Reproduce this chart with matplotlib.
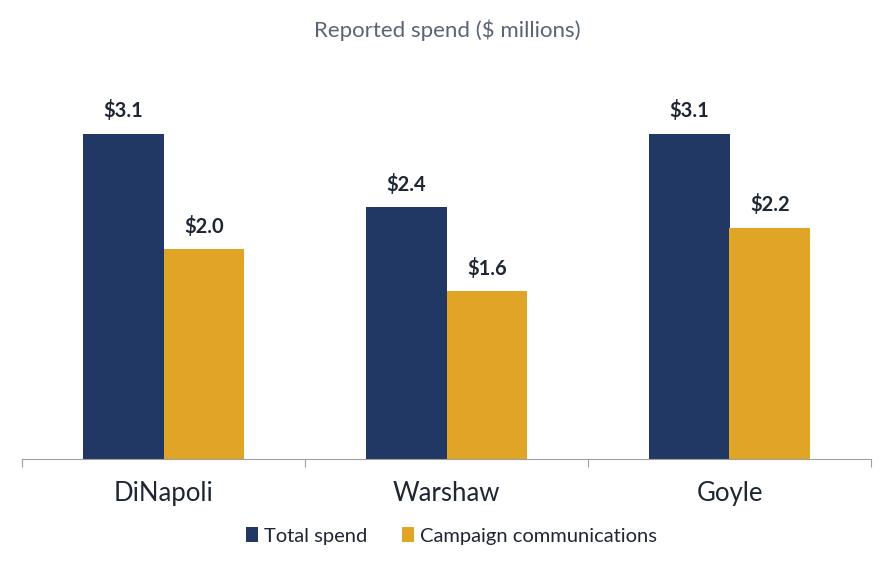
import matplotlib
matplotlib.use("Agg")
import matplotlib.pyplot as plt
import numpy as np

candidates = ["DiNapoli", "Warshaw", "Goyle"]
total_spend = [3.1, 2.4, 3.1]
campaign_comms = [2.0, 1.6, 2.2]
series_names = ["Total spend", "Campaign communications"]

navy = "#213864"
gold = "#E0A526"
text_dark = "#1E2533"

plt.rcParams['font.family'] = ['Lato', 'DejaVu Sans']

fig = plt.figure(figsize=(8.94, 5.70), dpi=100)
ax = fig.add_axes([22 / 894, 1 - 459 / 570, (871 - 22) / 894, (459 - 60) / 570])

x = np.arange(len(candidates))
w = 0.286
b1 = ax.bar(x - w / 2, total_spend, w, color=navy, label=series_names[0])
b2 = ax.bar(x + w / 2, campaign_comms, w, color=gold, label=series_names[1])

for bars in (b1, b2):
    for rect in bars:
        h = rect.get_height()
        ax.annotate(f"${h:.1f}", (rect.get_x() + rect.get_width() / 2, h),
                    xytext=(0, 9), textcoords="offset points",
                    ha="center", va="bottom", fontsize=14.5, fontweight="bold",
                    color=text_dark)

ax.set_xlim(-0.5, 2.5)
ax.set_ylim(0, 3.8)
ax.set_yticks([])
for s in ("top", "right", "left"):
    ax.spines[s].set_visible(False)
ax.spines["bottom"].set_color("#A0A0A0")

# tick marks at category boundaries, labels at centres
ax.set_xticks([-0.5, 0.5, 1.5, 2.5])
ax.set_xticklabels([])
ax.tick_params(axis="x", which="major", length=6, color="#A0A0A0", direction="out")
ax.set_xticks(x, minor=True)
ax.set_xticklabels(candidates, minor=True, fontsize=18.5, color=text_dark)
ax.tick_params(axis="x", which="minor", length=0, pad=16)

fig.text(0.5, 1 - 30 / 570, "Reported spend ($ millions)", ha="center", va="center",
         fontsize=16, color="#5A6474")

fig.legend(handles=[b1, b2], labels=series_names, loc="center",
           bbox_to_anchor=(0.505, 1 - 536 / 570), ncol=2, frameon=False,
           fontsize=14.5, handlelength=0.6, handleheight=0.7, handletextpad=0.3,
           columnspacing=1.7, labelcolor=text_dark)

fig.savefig("out.png", dpi=100)
